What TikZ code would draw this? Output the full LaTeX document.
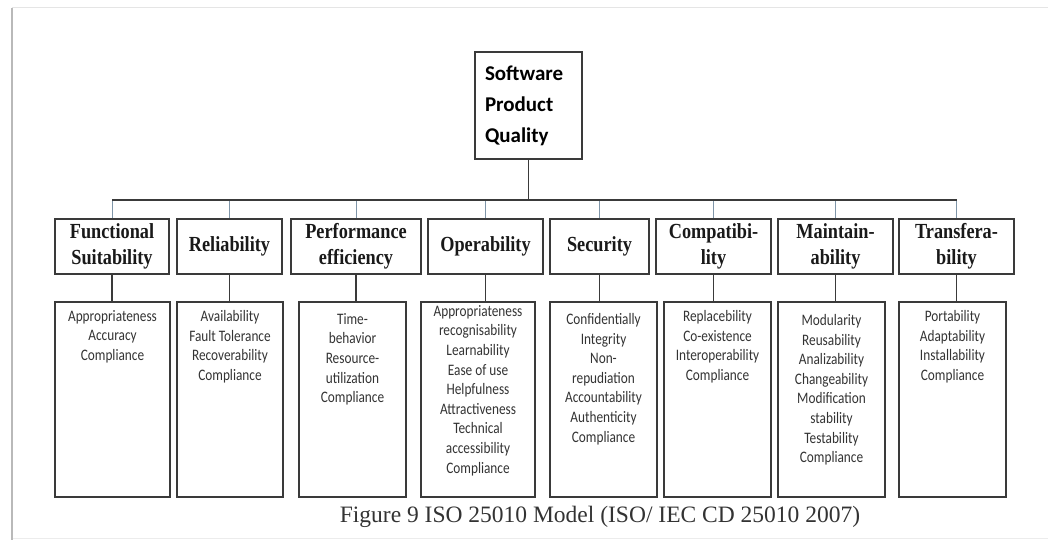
\documentclass[tikz,border=0pt]{standalone}
\usepackage{fontspec}
\setmainfont{Liberation Serif}
\newfontfamily\hdrfont[FakeStretch=0.85]{Liberation Serif}
\newfontfamily\itemfont[FakeStretch=0.83]{Carlito}
\newfontfamily\topfont{Carlito}
\definecolor{boxgray}{HTML}{3A3A3A}
\definecolor{dropblue}{HTML}{7F95A8}

\begin{document}
\begin{tikzpicture}[x=1pt, y=-1pt,
  box/.style={draw=boxgray, line width=1.8pt, inner sep=0pt},
  hdr/.style={box, minimum height=55pt, align=center, text=black!90,
    font=\hdrfont\bfseries\fontsize{21.5}{25.5}\selectfont},
  lst/.style={box, minimum height=195pt},
  items/.style={anchor=north, align=center, inner sep=0pt, text=black!80,
    font=\itemfont\fontsize{16}{19.6}\selectfont},
  link/.style={draw=boxgray, line width=1.4pt},
  drop/.style={draw=dropblue, line width=1pt}]
  \useasboundingbox (0,0) rectangle (1048,540);
  % page frame
  \draw[gray!20, line width=1pt] (12,8) -- (1048,8);
  \draw[gray!15, line width=1pt] (12,538) -- (1048,538);
  \draw[gray!55, line width=2pt] (12,8) -- (12,540);

  \node[box, text width=87pt, inner sep=10pt, minimum height=107pt, align=left,
    font=\topfont\bfseries\fontsize{21}{31}\selectfont] (top) at (528.5,105.5)
    {Software\\Product\\Quality};

  % characteristics
  \foreach \i/\hx/\hw/\lx/\lw/\hd in {
      1/112/114/112.5/115/{Functional\\Suitability},
      2/229.5/105/230/106/{Reliability},
      3/356/130/352.5/107/{Performance\\efficiency},
      4/485.5/115/478/114/{Operability},
      5/599.5/99/603.5/107/{Security},
      6/713.5/115/717.5/107/{Compatibi-\\lity},
      7/835.5/115/831.5/107/{Maintain-\\ability},
      8/956.5/115/952.5/107/{Transfera-\\bility}} {
    \node[hdr, minimum width=\hw pt] (h\i) at (\hx,246.5) {\hd};
    \node[lst, minimum width=\lw pt] (l\i) at (\lx,399.5) {};
  }

  % sub-characteristics
  \foreach \i/\dy/\txt in {
      1/9/{Appropriateness\\Accuracy\\Compliance},
      2/9/{Availability\\Fault Tolerance\\Recoverability\\Compliance},
      3/12/{Time-\\behavior\\Resource-\\utilization\\Compliance},
      4/4/{Appropriateness\\recognisability\\Learnability\\Ease of use\\Helpfulness\\Attractiveness\\Technical\\accessibility\\Compliance},
      5/12/{Confidentially\\Integrity\\Non-\\repudiation\\Accountability\\Authenticity\\Compliance},
      6/9/{Replacebility\\Co-existence\\Interoperability\\Compliance},
      7/13/{Modularity\\Reusability\\Analizability\\Changeability\\Modification\\stability\\Testability\\Compliance},
      8/9/{Portability\\Adaptability\\Installability\\Compliance}}
    \node[items] (t\i) at ([yshift=-\dy pt]l\i.north) {\txt};

  % tree lines
  \coordinate (busL) at ([yshift=18pt]h1.north);
  \coordinate (busR) at ([yshift=18pt]h8.north);
  \foreach \i in {1,...,8} {
    \draw[drop] (h\i.north |- busL) -- (h\i.north);
    \draw[link] (h\i.south) -- (h\i.south |- l\i.north);
  }
  \draw[link] (busL) -- (busR);
  \draw[link] (top.south) -- (top.south |- busL);

  \node[font=\fontsize{23.5}{28}\selectfont, text=black!80] (cap) at (600,517)
    {Figure 9 ISO 25010 Model (ISO/ IEC CD 25010 2007)};
\end{tikzpicture}
\end{document}
